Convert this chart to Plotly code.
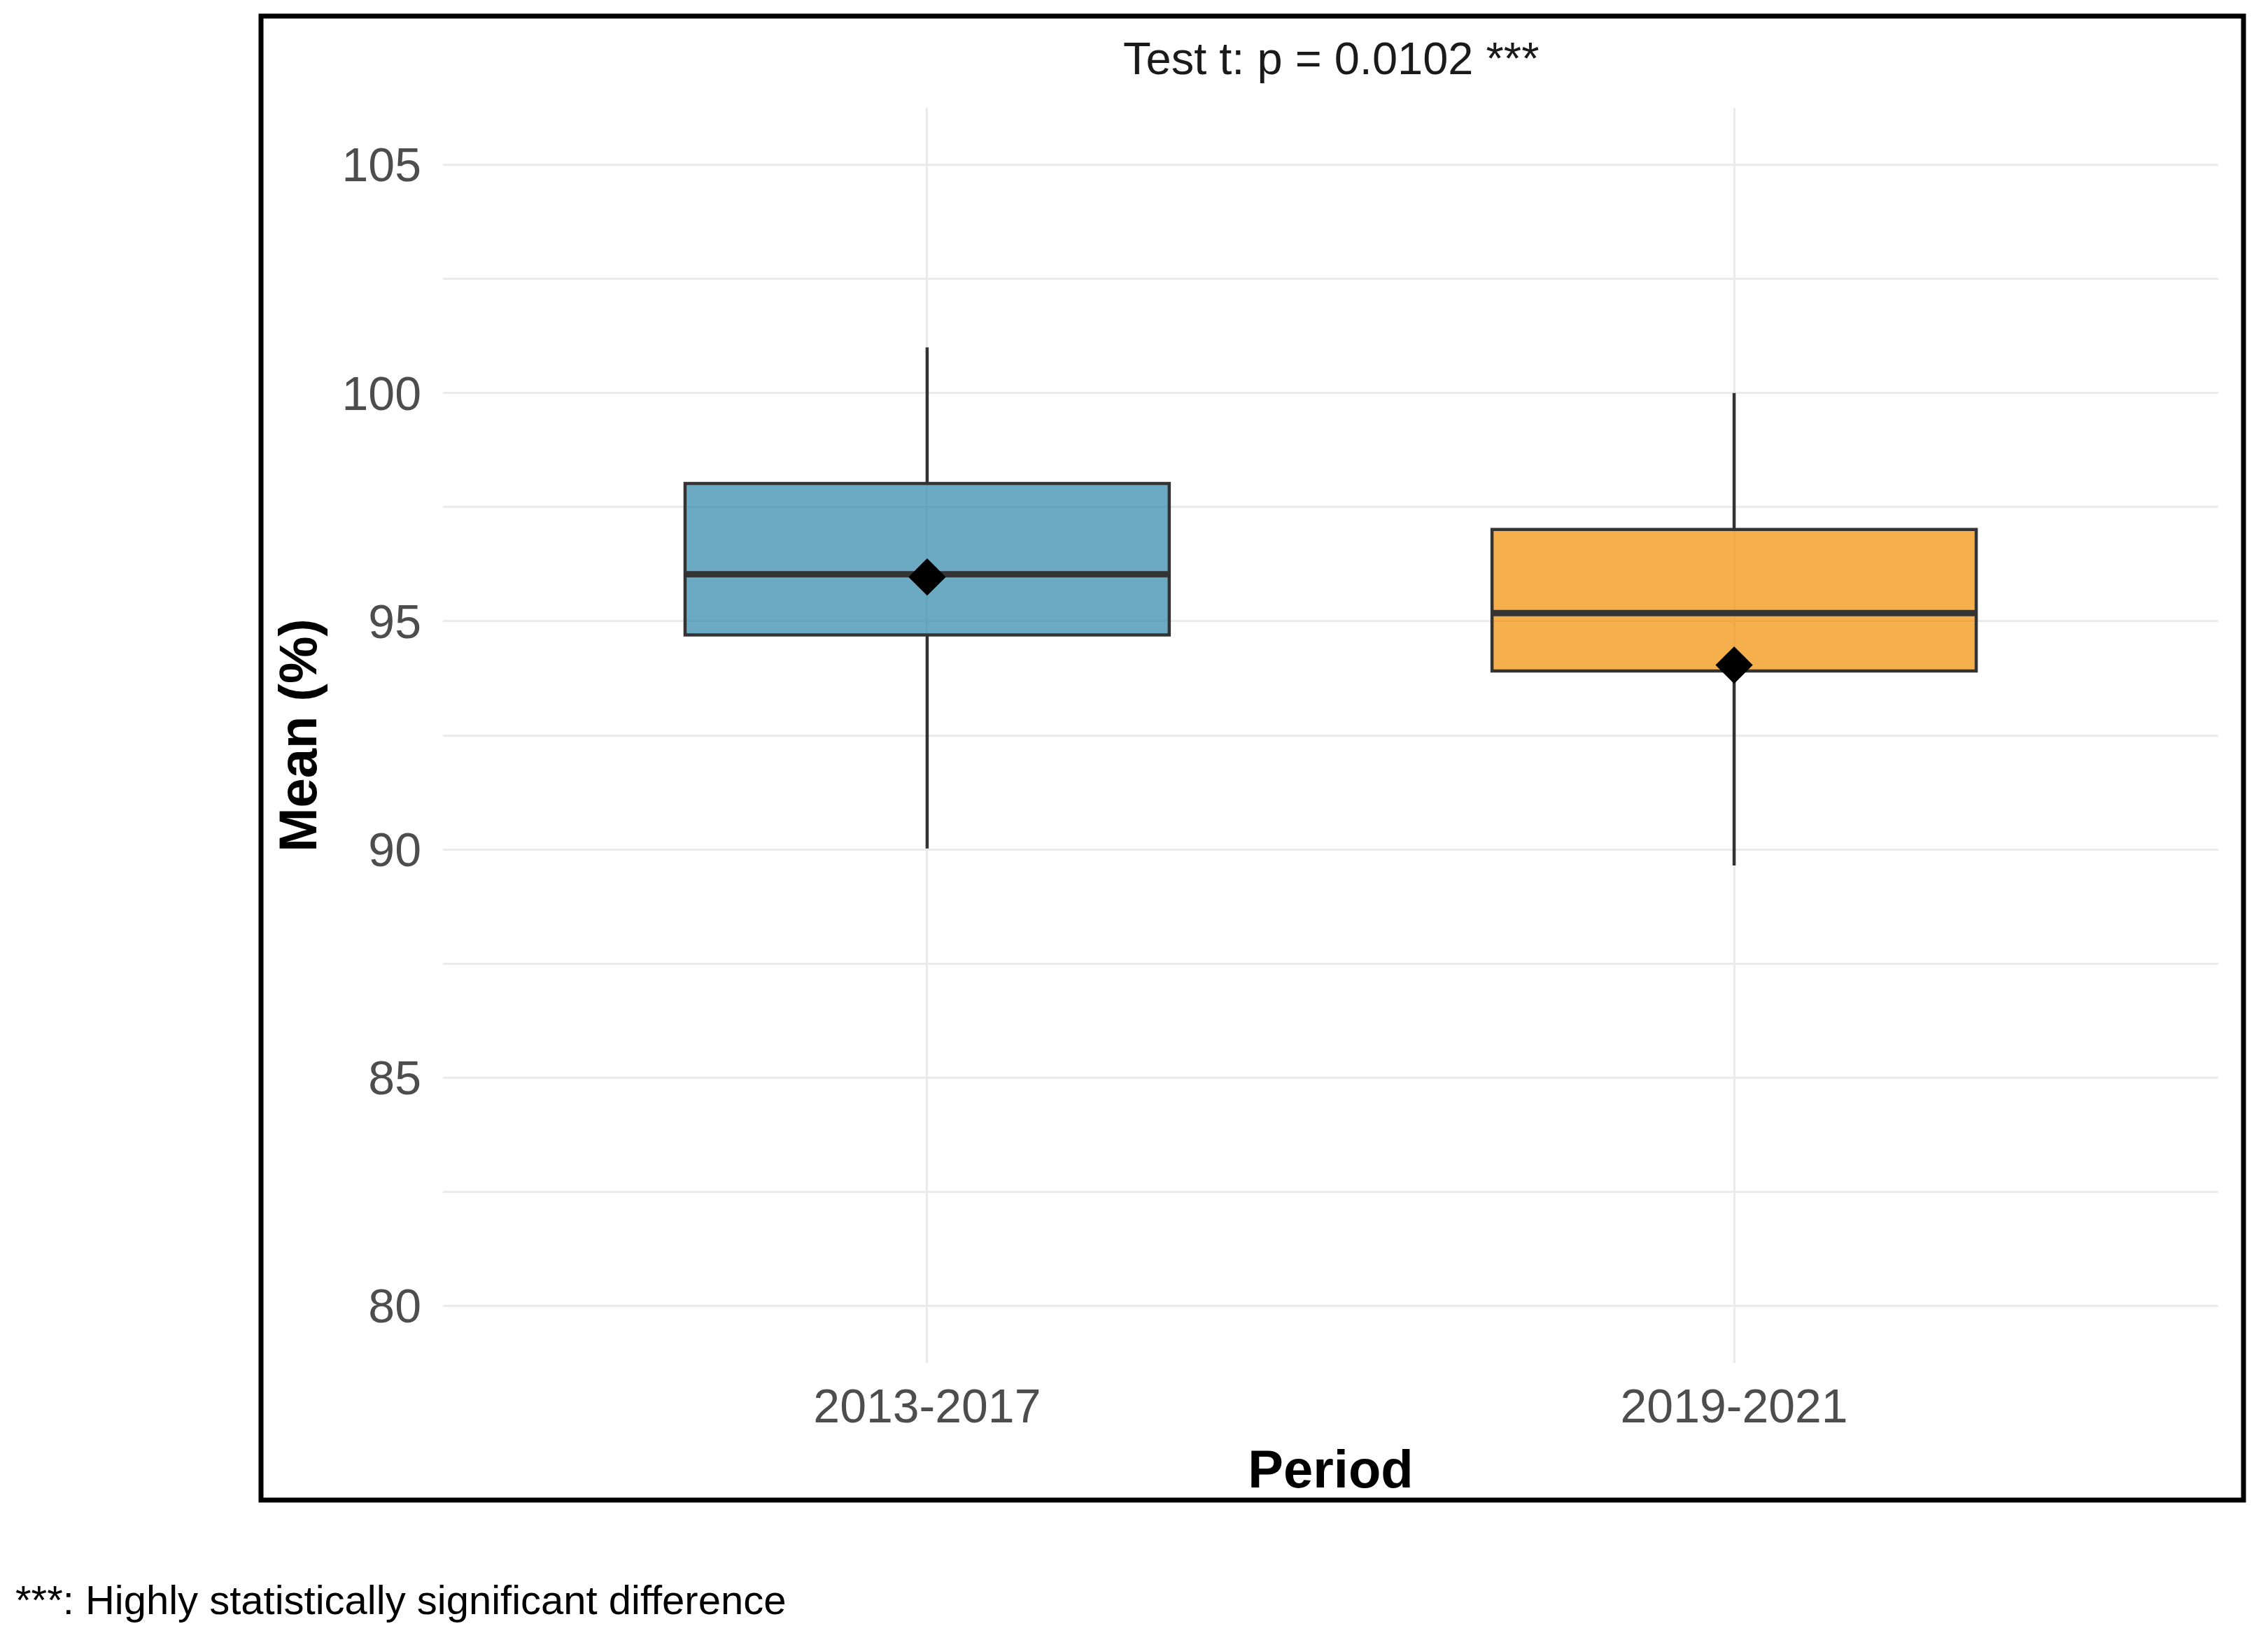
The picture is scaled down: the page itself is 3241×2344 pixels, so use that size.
import plotly.graph_objects as go

# ---- data ----
periods = ["2013-2017", "2019-2021"]
q1_vals = [94.70, 93.91]
median_vals = [96.03, 95.18]
q3_vals = [98.02, 97.01]
lower_whisker = [90.02, 89.65]
upper_whisker = [101.0, 100.0]
mean_vals = [95.97, 94.04]
fill_colors = ["rgba(46,134,171,0.7)", "rgba(241,143,1,0.7)"]

y_ticks = [80, 85, 90, 95, 100, 105]
title_text = "Test t: p = 0.0102 ***"
footnote_text = "***: Highly statistically significant difference"

# ---- layout constants ----
W, H = 3241, 2344
ML, MR, MT, MB = 633, 71, 154, 396
BOX_W = 0.6
FONT = "Liberation Sans, Arial, sans-serif"
GRID = "#ebebeb"

pw = W - ML - MR
ph = H - MT - MB


def px_to_paper_x(px):
    return (px - ML) / pw


def px_to_paper_y(py):
    return (H - MB - py) / ph


fig = go.Figure()

xs = list(range(1, len(periods) + 1))
for i, x in enumerate(xs):
    fig.add_trace(go.Box(
        x=[x], q1=[q1_vals[i]], median=[median_vals[i]], q3=[q3_vals[i]],
        lowerfence=[lower_whisker[i]], upperfence=[upper_whisker[i]],
        fillcolor=fill_colors[i], line=dict(color="#333333", width=4.5),
        whiskerwidth=0, width=BOX_W, boxpoints=False, showlegend=False,
        name=periods[i], hoverinfo="skip",
    ))
    # thicker median line across the box
    fig.add_trace(go.Scatter(
        x=[x - BOX_W / 2, x + BOX_W / 2], y=[median_vals[i], median_vals[i]],
        mode="lines", line=dict(color="#333333", width=9),
        showlegend=False, hoverinfo="skip",
    ))

fig.add_trace(go.Scatter(
    x=xs, y=mean_vals, mode="markers",
    marker=dict(symbol="diamond", size=41, color="black"),
    showlegend=False, name="Mean",
))

fig.update_layout(
    width=W, height=H,
    margin=dict(l=ML, r=MR, t=MT, b=MB),
    paper_bgcolor="white", plot_bgcolor="white",
    boxmode="overlay",
    font=dict(family=FONT, color="#4d4d4d"),
    xaxis=dict(
        range=[0.4, 2.6], tickvals=xs, ticktext=periods,
        showgrid=True, gridcolor=GRID, gridwidth=3,
        zeroline=False, showline=False, ticks="",
        tickfont=dict(size=68, color="#4d4d4d"),
        ticklabelstandoff=16,
        title=dict(text="<b>Period</b>", font=dict(size=76, color="black"), standoff=26),
    ),
    yaxis=dict(
        range=[78.75, 106.25], tickvals=y_ticks,
        showgrid=True, gridcolor=GRID, gridwidth=3,
        minor=dict(dtick=2.5, tick0=80, showgrid=True, gridcolor=GRID, gridwidth=2.5),
        zeroline=False, showline=False, ticks="",
        tickfont=dict(size=68, color="#4d4d4d"),
        ticklabelstandoff=30,
        title=dict(text="<b>Mean (%)</b>", font=dict(size=76, color="black"), standoff=10),
    ),
)

# title of the panel
fig.add_annotation(
    text=title_text, xref="paper", yref="paper",
    x=0.5, y=px_to_paper_y(83), xanchor="center", yanchor="middle",
    showarrow=False, font=dict(size=65, color="#1a1a1a", family=FONT),
)

# footnote
fig.add_annotation(
    text=footnote_text, xref="paper", yref="paper",
    x=px_to_paper_x(20), y=px_to_paper_y(2286), xanchor="left", yanchor="middle",
    showarrow=False, font=dict(size=58, color="black", family=FONT),
)

# black frame around the chart
fig.add_shape(
    type="rect", xref="paper", yref="paper",
    x0=px_to_paper_x(373), x1=px_to_paper_x(3206),
    y0=px_to_paper_y(2144), y1=px_to_paper_y(23),
    line=dict(color="black", width=7), fillcolor="rgba(0,0,0,0)", layer="above",
)

fig.write_html("out.html")
